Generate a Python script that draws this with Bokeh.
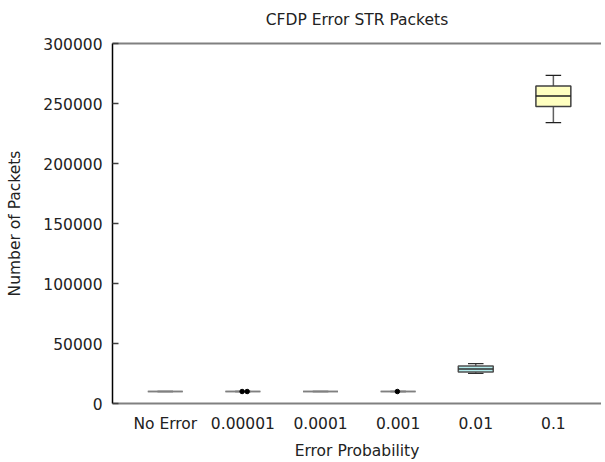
from bokeh.plotting import figure
from bokeh.models import Range1d, FixedTicker, ColumnDataSource, LinearAxis
from bokeh.embed import file_html
from bokeh.resources import INLINE

categories = ["No Error", "0.00001", "0.0001", "0.001", "0.01", "0.1"]
whisker_low = [10000, 10000, 10000, 10000, 25100, 234000]
q1 = [10000, 10000, 10000, 10000, 26200, 247600]
median = [10000, 10000, 10000, 10000, 28700, 256300]
q3 = [10000, 10000, 10000, 10000, 31200, 264600]
whisker_high = [10000, 10000, 10000, 10000, 33200, 273500]
outlier_cat = [1, 1, 3]
outlier_val = [10000, 10000, 10000]
y_ticks = [0, 50000, 100000, 150000, 200000, 250000, 300000]
title_text = "CFDP Error STR Packets"

box_fill = ["#ffffc0", "#ffffc0", "#ffffc0", "#ffffc0", "#b4ecec", "#ffffc0"]
box_line = ["#808080", "#808080", "#808080", "#808080", "#505050", "#404040"]
median_line = ["#808080", "#808080", "#808080", "#808080", "#303030", "#202020"]

FONT = "DejaVu Sans"
FS = "15.5px"
BOX_W = 0.45
CAP_W = 0.2
X_LO, X_HI = 0.32, 6.62
Y_LO, Y_HI = 0, 300000

x = [i + 1 for i in range(len(categories))]

p = figure(frame_width=489, frame_height=360, output_backend="svg",
           toolbar_location=None, x_range=Range1d(X_LO, X_HI),
           y_range=Range1d(Y_LO, Y_HI),
           min_border_left=112, min_border_right=0, min_border_top=43,
           min_border_bottom=52)
p.outline_line_color = None
p.xgrid.visible = False
p.ygrid.visible = False

# bottom axis (grab it before adding the top one)
xa = p.below[0]

# top border + title (as the label of an axis above the frame)
top = LinearAxis(ticker=FixedTicker(ticks=[]))
top.axis_line_color = "#808080"
top.axis_line_width = 2
top.major_tick_in = 0
top.major_tick_out = 0
top.minor_tick_in = 0
top.minor_tick_out = 0
top.major_label_standoff = 0
top.axis_label = title_text
top.axis_label_text_font = FONT
top.axis_label_text_font_size = FS
top.axis_label_text_font_style = "normal"
top.axis_label_text_color = "#222222"
top.axis_label_standoff = 15
p.add_layout(top, "above")

src = ColumnDataSource(dict(x=x, lo=whisker_low, q1=q1, med=median, q3=q3, hi=whisker_high,
                            fill=box_fill, line=box_line, mline=median_line,
                            x0=[v - BOX_W / 2 for v in x], x1=[v + BOX_W / 2 for v in x],
                            c0=[v - CAP_W / 2 for v in x], c1=[v + CAP_W / 2 for v in x]))

# whiskers
p.segment("x", "q3", "x", "hi", source=src, line_color="#606060", line_width=1.5)
p.segment("x", "q1", "x", "lo", source=src, line_color="#606060", line_width=1.5)
p.segment("c0", "hi", "c1", "hi", source=src, line_color="mline", line_width=1.3)
p.segment("c0", "lo", "c1", "lo", source=src, line_color="mline", line_width=1.3)
# boxes
p.quad(left="x0", right="x1", bottom="q1", top="q3", source=src,
       fill_color="fill", line_color="line", line_width=1.5)
p.segment("x0", "med", "x1", "med", source=src, line_color="mline", line_width=1.5)

# outliers (duplicates at same category are placed side by side)
ox = []
seen = {}
for c, v in zip(outlier_cat, outlier_val):
    n = seen.get((c, v), 0)
    seen[(c, v)] = n + 1
    ox.append(x[c] - 0.01 + 0.065 * n)
p.scatter(ox, outlier_val, size=4.5, color="black")

# axes
ya = p.left[0]
ya.ticker = FixedTicker(ticks=y_ticks)
ya.major_tick_in = 6
ya.major_tick_out = 0
ya.minor_tick_in = 0
ya.minor_tick_out = 0
ya.axis_line_color = "black"
ya.axis_line_width = 1.5
ya.major_tick_line_color = "#404040"
ya.major_tick_line_width = 1.5
ya.major_label_text_font = FONT
ya.major_label_text_font_size = FS
ya.major_label_text_color = "#222222"
ya.major_label_standoff = 10
ya.axis_label = "Number of Packets"
ya.axis_label_text_font = FONT
ya.axis_label_text_font_size = FS
ya.axis_label_text_font_style = "normal"
ya.axis_label_text_color = "#222222"
ya.axis_label_standoff = 16
ya.formatter.use_scientific = False

xa.ticker = FixedTicker(ticks=x)
xa.major_label_overrides = {v: c for v, c in zip(x, categories)}
xa.major_tick_in = 0
xa.major_tick_out = 0
xa.minor_tick_in = 0
xa.minor_tick_out = 0
xa.axis_line_color = "#808080"
xa.axis_line_width = 2
xa.major_label_text_font = FONT
xa.major_label_text_font_size = FS
xa.major_label_text_color = "#222222"
xa.major_label_standoff = 11
xa.axis_label = "Error Probability"
xa.axis_label_text_font = FONT
xa.axis_label_text_font_size = FS
xa.axis_label_text_font_style = "normal"
xa.axis_label_text_color = "#222222"
xa.axis_label_standoff = 6

open("out.html", "w").write(file_html(p, INLINE))
